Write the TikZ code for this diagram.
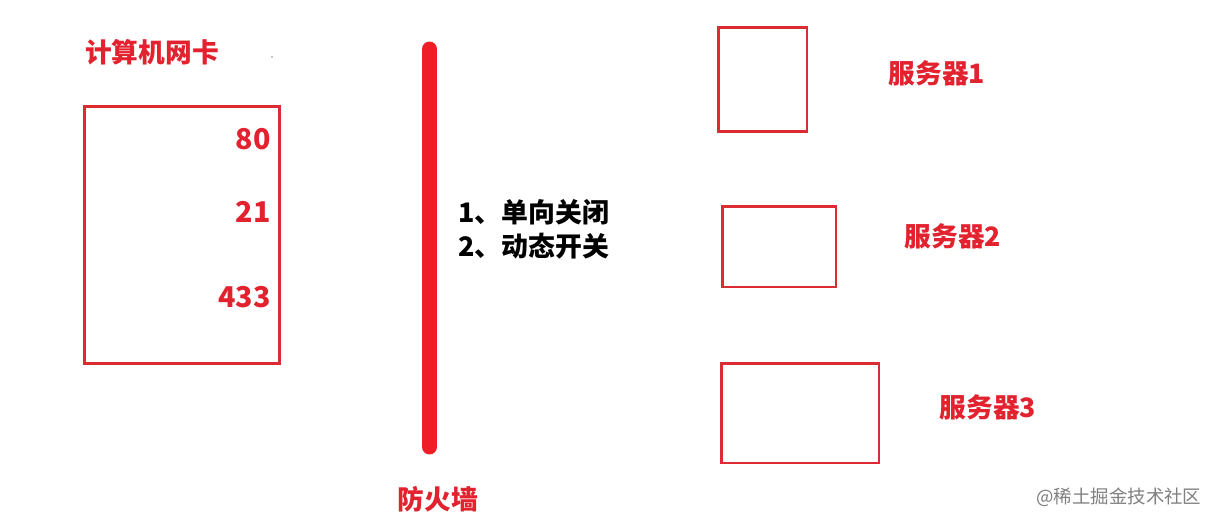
\documentclass[tikz,border=0pt]{standalone}
\usepackage{fontspec}
\setmainfont{Noto Sans CJK SC}
\usepackage{tikz}
\usetikzlibrary{positioning}
\definecolor{wallred}{HTML}{EE1D27}
\definecolor{boxred}{HTML}{DC2B32}
\definecolor{txtred}{HTML}{E2222E}

\begin{document}
\begin{tikzpicture}[x=0.02cm,y=-0.02cm,
  box/.style={draw=boxred,line width=1.7pt,inner sep=0pt},
  redlabel/.style={text=txtred,font=\fontsize{15.2}{18}\selectfont\bfseries,inner sep=0pt},
  portnum/.style={text=txtred,font=\fontsize{16.3}{20}\selectfont\bfseries,inner sep=0pt,anchor=east}]

\useasboundingbox[fill=white] (0,0) rectangle (1213,524) ;

% network card
\node[redlabel] (nic_label) at (152,52) {计算机网卡} ;
\fill (272,57) circle (0.6) ;
\node[box,minimum width=3.92cm,minimum height=5.16cm] (nic) at (182,235) {} ;
\node[portnum] (port_a) at (271,139) {80} ;
\node[portnum] (port_b) at (271,212) {21} ;
\node[portnum] (port_c) at (271,297) {433} ;

% firewall
\coordinate (wall_top) at (429.5,49) ;
\coordinate (wall_bot) at (429.5,447) ;
\draw[wallred,line width=8.5pt,line cap=round] (wall_top) -- (wall_bot) ;
\node[redlabel] (wall_label) at (438,499) {防火墙} ;
\node[font=\fontsize{15.3}{19.3}\selectfont\bfseries,align=left,anchor=west,inner sep=0pt] (wall_rules) at (458,229)
  {1、单向关闭\\2、动态开关} ;

% servers
\node[box,minimum width=1.78cm,minimum height=2.1cm] (srv_a) at (762.5,79.5) {} ;
\node[box,minimum width=2.28cm,minimum height=1.62cm] (srv_b) at (779,246.5) {} ;
\node[box,minimum width=3.16cm,minimum height=2.0cm] (srv_c) at (800,413) {} ;
\node[redlabel] (srv_a_label) at (937,73) {服务器1} ;
\node[redlabel] (srv_b_label) at (953,236) {服务器2} ;
\node[redlabel] (srv_c_label) at (988,407) {服务器3} ;

% watermark
\node[text=black!50,font=\fontsize{10.5}{13}\selectfont,anchor=west,inner sep=0pt] (mark) at (1036,497) {@稀土掘金技术社区} ;

\end{tikzpicture}
\end{document}
